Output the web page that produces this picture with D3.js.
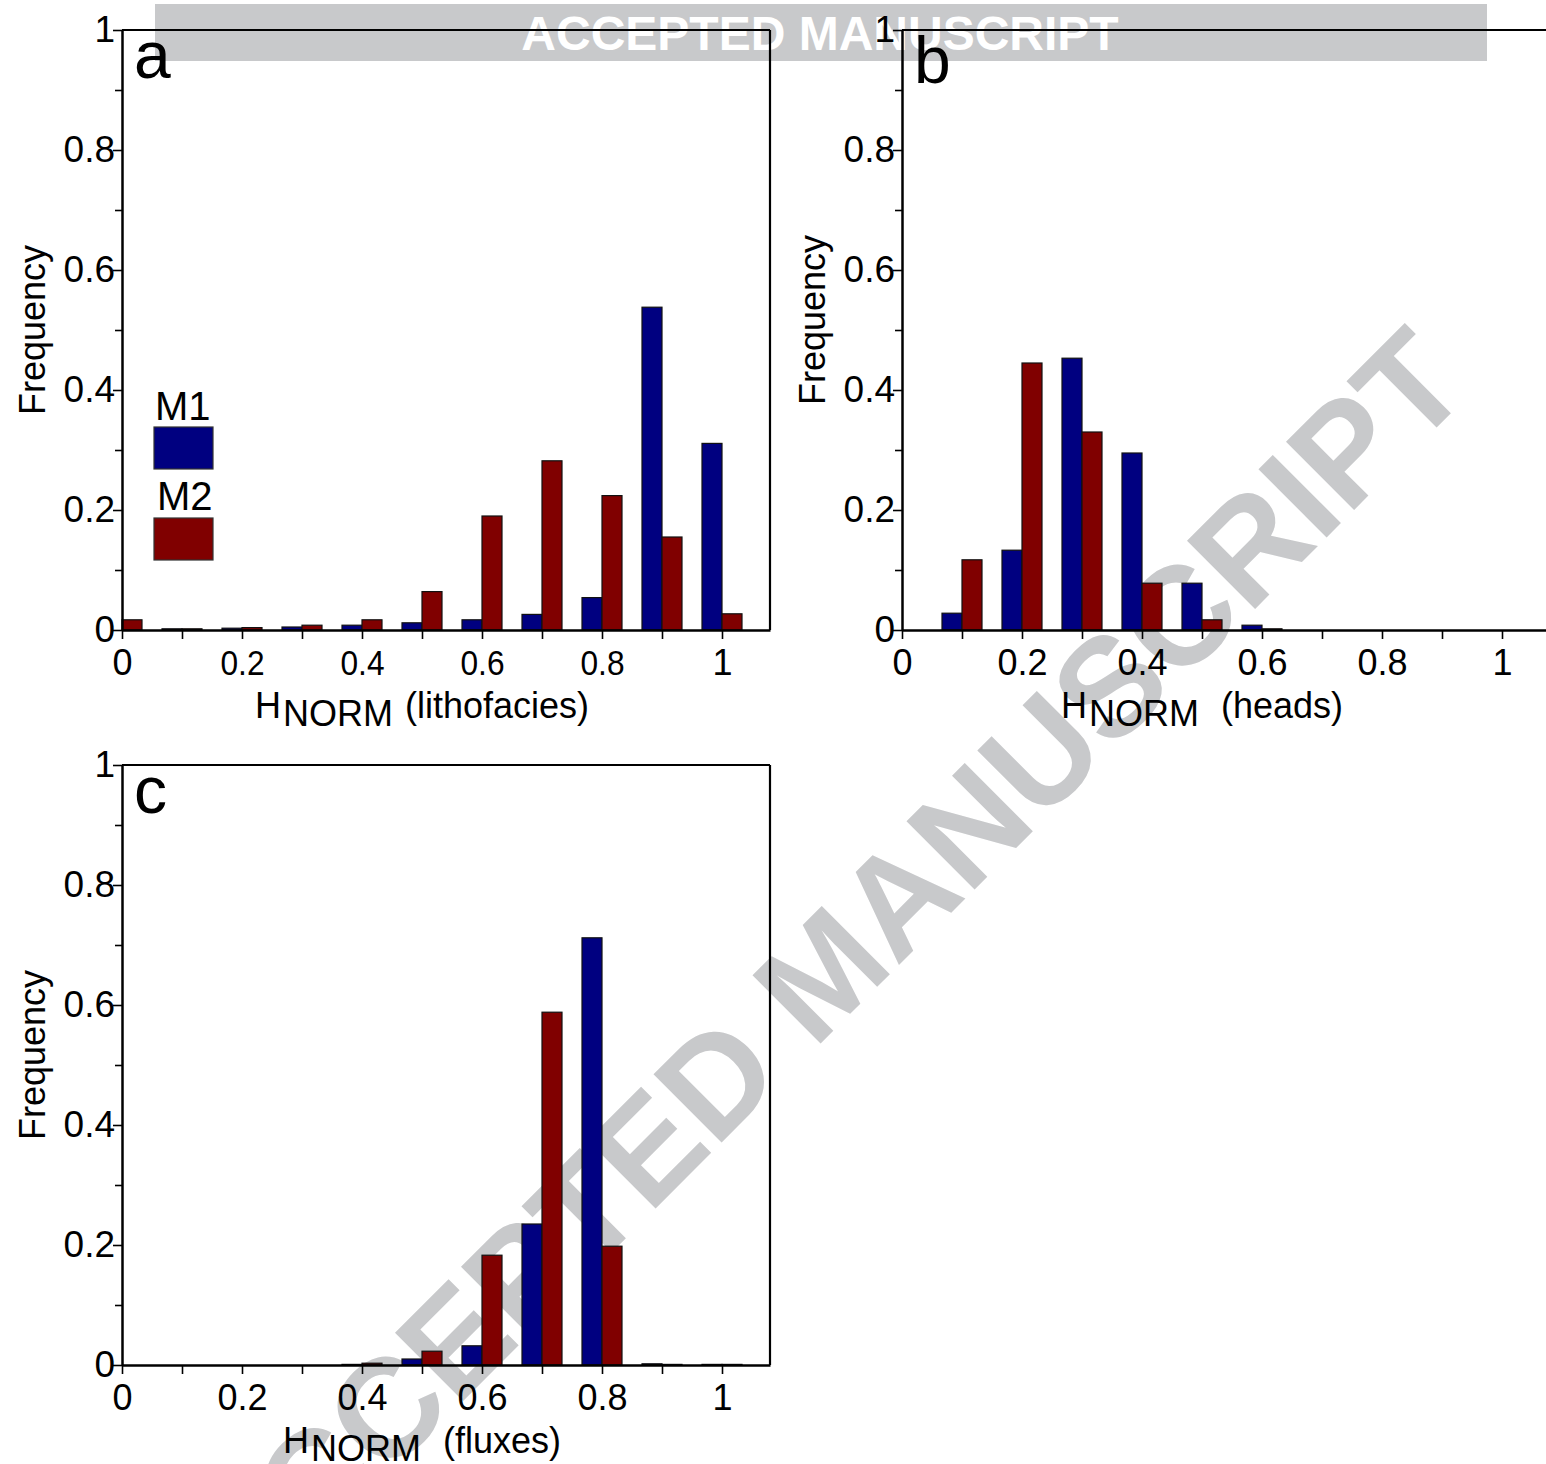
<!DOCTYPE html>
<html>
<head>
<meta charset="utf-8">
<script src="https://cdn.jsdelivr.net/npm/d3@7/dist/d3.min.js"></script>
<style>
  html, body { margin: 0; padding: 0; background: #ffffff; }
  svg { display: block; }
  text { font-family: "Liberation Sans", Arial, Helvetica, sans-serif; }
</style>
</head>
<body>
<svg id="chart" width="1546" height="1464"></svg>
<script>
// Histogram bin positions (H_NORM)
const bins = [0, 0.1, 0.2, 0.3, 0.4, 0.5, 0.6, 0.7, 0.8, 0.9, 1.0];

// Lithofacies entropy frequencies
const lithoM1 = [0, 0.002, 0.003, 0.005, 0.008, 0.012, 0.017, 0.026, 0.054, 0.538, 0.311];
const lithoM2 = [0.017, 0.002, 0.004, 0.008, 0.017, 0.064, 0.190, 0.282, 0.224, 0.155, 0.027];

// Hydraulic head entropy frequencies
const headsM1 = [0, 0.028, 0.133, 0.453, 0.295, 0.078, 0.008, 0, 0, 0, 0];
const headsM2 = [0, 0.117, 0.445, 0.330, 0.078, 0.017, 0.002, 0, 0, 0, 0];

// Flux entropy frequencies
const fluxM1 = [0, 0, 0, 0, 0.001, 0.010, 0.032, 0.235, 0.712, 0.002, 0.001];
const fluxM2 = [0, 0, 0, 0, 0.003, 0.023, 0.183, 0.588, 0.198, 0.001, 0.001];

// Axis ticks
const xTickValues = [0, 0.1, 0.2, 0.3, 0.4, 0.5, 0.6, 0.7, 0.8, 0.9, 1.0];
const xTickLabels = ["0", "", "0.2", "", "0.4", "", "0.6", "", "0.8", "", "1"];
const yMajorTicks = [0, 0.2, 0.4, 0.6, 0.8, 1.0];
const yMajorLabels = ["0", "0.2", "0.4", "0.6", "0.8", "1"];
const yMinorTicks = [0.1, 0.3, 0.5, 0.7, 0.9];

const seriesNames = ["M1", "M2"];
const seriesColors = ["#000080", "#800000"];

const svg = d3.select("#chart");
svg.append("rect").attr("width", 1546).attr("height", 1464).attr("fill", "#ffffff");

// Diagonal watermark
svg.append("text")
  .attr("transform", "translate(858,1006) rotate(-45)")
  .attr("text-anchor", "middle")
  .attr("font-size", 140)
  .attr("font-weight", "bold")
  .attr("fill", "#c8c9cb")
  .text("ACCEPTED MANUSCRIPT");

// Top banner
svg.append("rect")
  .attr("x", 155).attr("y", 4).attr("width", 1332).attr("height", 57)
  .attr("fill", "#c8c9cb");
svg.append("text")
  .attr("x", 820).attr("y", 50)
  .attr("text-anchor", "middle")
  .attr("font-size", 48)
  .attr("font-weight", "bold")
  .attr("fill", "#ffffff")
  .text("ACCEPTED MANUSCRIPT");

const W = 648, H = 600;
const x = d3.scaleLinear().domain([0, 1.08]).range([0, W]);
const y = d3.scaleLinear().domain([0, 1]).range([H, 0]);
const barW = x(1 / 30) - x(0);

const panels = [
  { letter: "a", left: 122, top: 30, m1: lithoM1, m2: lithoM2, name: "(lithofacies)", gap: 12, rightFrame: true, condensed: true, legend: true, freqShift: 0, letterDy: 48 },
  { letter: "b", left: 902, top: 30, m1: headsM1, m2: headsM2, name: "(heads)", gap: 22, rightFrame: false, condensed: false, legend: false, freqShift: -10, letterDy: 53 },
  { letter: "c", left: 122, top: 765, m1: fluxM1, m2: fluxM2, name: "(fluxes)", gap: 22, rightFrame: true, condensed: false, legend: false, freqShift: -10, letterDy: 48 }
];

const FS = 36;

panels.forEach(p => {
  const g = svg.append("g").attr("transform", `translate(${p.left},${p.top})`);

  // bars: M1 to the left of each bin position, M2 to the right
  [p.m1, p.m2].forEach((vals, si) => {
    g.append("g").selectAll("rect")
      .data(bins.map((b, i) => ({ b, v: vals[i] })).filter(d => d.v > 0))
      .join("rect")
      .attr("x", d => si === 0 ? x(d.b) - barW : x(d.b))
      .attr("y", d => y(d.v))
      .attr("width", barW)
      .attr("height", d => y(0) - y(d.v))
      .attr("fill", seriesColors[si])
      .attr("stroke", "#111")
      .attr("stroke-width", 1.2);
  });

  // frame
  g.append("line").attr("x1", 0).attr("x2", W).attr("y1", 0).attr("y2", 0)
    .attr("stroke", "#000").attr("stroke-width", 2.2);
  if (p.rightFrame) {
    g.append("line").attr("x1", W).attr("x2", W).attr("y1", 0).attr("y2", H)
      .attr("stroke", "#000").attr("stroke-width", 2.2);
  }

  // y axis: major ticks with labels, minor ticks without
  const yMaj = g.append("g").call(
    d3.axisLeft(y).tickValues(yMajorTicks).tickSize(9).tickSizeOuter(0).tickPadding(-2)
      .tickFormat((d, i) => yMajorLabels[i]));
  const yMin = g.append("g").call(
    d3.axisLeft(y).tickValues(yMinorTicks).tickSize(7).tickSizeOuter(0).tickFormat(""));
  yMin.select(".domain").remove();
  [yMaj, yMin].forEach(a => {
    a.selectAll(".tick line").attr("stroke", "#000").attr("stroke-width", 1.6);
  });
  yMaj.select(".domain").attr("stroke", "#000").attr("stroke-width", 2.5);
  yMaj.selectAll(".tick text")
    .attr("font-size", 37).attr("fill", "#000")
    .attr("font-family", '"Liberation Sans", Arial, sans-serif')
    .attr("dy", "0.3em");

  // x axis
  const xAx = g.append("g").attr("transform", `translate(0,${H})`).call(
    d3.axisBottom(x).tickValues(xTickValues).tickSize(9).tickSizeOuter(0).tickPadding(10)
      .tickFormat((d, i) => xTickLabels[i]));
  xAx.select(".domain").attr("stroke", "#000").attr("stroke-width", 2.5);
  xAx.selectAll(".tick line").attr("stroke", "#000").attr("stroke-width", 1.6);
  xAx.selectAll(".tick text")
    .attr("font-size", FS).attr("fill", "#000")
    .attr("font-family", '"Liberation Sans", Arial, sans-serif');
  if (p.condensed) {
    // inner labels of this panel are set in a narrower face
    xAx.selectAll(".tick text")
      .filter((d, i) => i > 0 && i < 10)
      .attr("transform", "scale(0.88,1)");
  }

  // x axis title with subscript
  const t = g.append("text")
    .attr("x", x(0.5)).attr("y", H + 88)
    .attr("text-anchor", "middle")
    .attr("font-size", FS).attr("fill", "#000");
  t.append("tspan").text("H");
  t.append("tspan").attr("dy", 8).attr("dx", 2).text("NORM");
  t.append("tspan").attr("dy", -8).attr("dx", p.gap).text(p.name);

  // y axis title
  g.append("text")
    .attr("transform", `translate(-77,${H / 2 + p.freqShift}) rotate(-90)`)
    .attr("text-anchor", "middle")
    .attr("font-size", FS).attr("fill", "#000")
    .text("Frequency");

  // panel letter
  g.append("text")
    .attr("x", 12).attr("y", p.letterDy)
    .attr("font-size", 66).attr("fill", "#000")
    .text(p.letter);

  // legend
  if (p.legend) {
    const lg = g.append("g");
    const items = [
      { name: seriesNames[0], color: seriesColors[0], tx: 33, ty: 390, ry: 397 },
      { name: seriesNames[1], color: seriesColors[1], tx: 35, ty: 480, ry: 488 }
    ];
    items.forEach(it => {
      lg.append("text").attr("x", it.tx).attr("y", it.ty)
        .attr("font-size", 40).attr("fill", "#000").text(it.name);
      lg.append("rect").attr("x", 32).attr("y", it.ry)
        .attr("width", 59).attr("height", 42)
        .attr("fill", it.color).attr("stroke", "#333").attr("stroke-width", 1.2);
    });
  }
});
</script>
</body>
</html>
